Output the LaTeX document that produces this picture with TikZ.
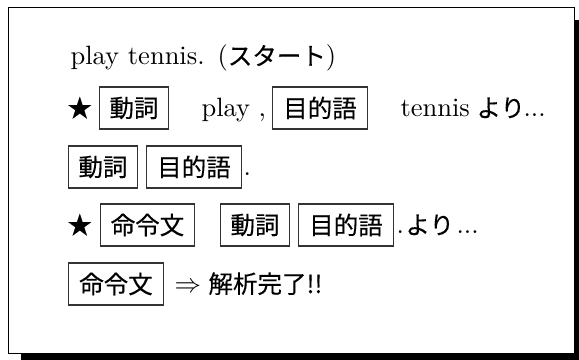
\documentclass[tikz,border=0pt]{standalone}
\usepackage{fontspec}
\newfontfamily\jpraw{Noto Sans CJK JP}[FakeBold=0.3]
\newcommand\jp{\fontsize{9.25}{11}\selectfont\jpraw}
\begin{document}
\begin{tikzpicture}[x=0.3774pt,y=-0.3774pt,
  txt/.style={inner sep=0pt,anchor=base west,font=\fontsize{10}{12}\selectfont},
  jbox/.style={draw=black!80,line width=0.4pt,inner sep=0pt,minimum height=15.85pt,font=\jp},
  vbox/.style={jbox,minimum width=26pt},
  wbox/.style={jbox,minimum width=35.5pt}]
\useasboundingbox (0,0) rectangle (579,360);
% shadow
\fill[black] (574.5,20) rectangle (579.5,360);
\fill[black] (21,353.5) rectangle (579.5,360);
% frame
\draw[black,line width=0.45pt,fill=white] (8.5,7.5) rectangle (574.5,353.5);
% line 1
\node[txt] (l1a) at (70,65) {play tennis.};
\node[txt] (l1b) at (217,65) {({\jp スタート})};
% line 2
\node[txt] (s1) at (67,117) {\jp ★};
\node[vbox] (b21) at (134,108) {動詞};
\node[txt] (l2a) at (201,117) {play};
\node[txt] (l2b) at (258,117) {,};
\node[wbox] (b22) at (320,108) {目的語};
\node[txt] (l2c) at (400,117) {tennis};
\node[txt] (l2d) at (476,117) {\jp より};
\node[txt] (l2e) at (523,117) {...};
% line 3
\node[vbox] (b31) at (103,167) {動詞};
\node[wbox] (b32) at (194,167) {目的語};
\node[txt] (l3a) at (243,176) {.};
% line 4
\node[txt] (s2) at (67,234) {\jp ★};
\node[wbox] (b41) at (147.5,225) {命令文};
\node[vbox] (b42) at (255,225) {動詞};
\node[wbox] (b43) at (346,225) {目的語};
\node[txt] (l4a) at (396,234) {.};
\node[txt] (l4b) at (405,234) {\jp より};
\node[txt] (l4c) at (456,234) {...};
% line 5
\node[wbox] (b51) at (116,284) {命令文};
\node[txt] (l5a) at (174,293) {$\Rightarrow$};
\node[txt] (l5b) at (208,293) {\jp 解析完了!!};
\end{tikzpicture}
\end{document}
